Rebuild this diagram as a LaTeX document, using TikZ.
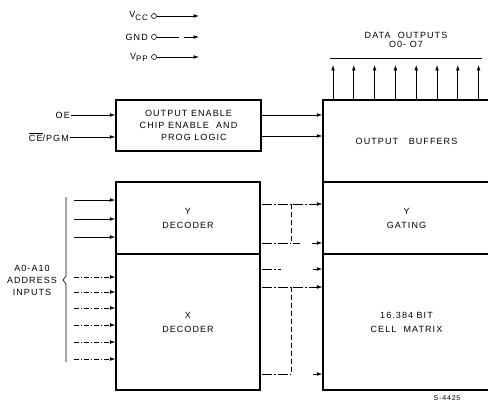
\documentclass[tikz,border=0pt]{standalone}
\usepackage{fontspec}
\setmainfont{Liberation Sans}[LetterSpace=12]
\usetikzlibrary{positioning,arrows.meta}
\newcommand{\pinsub}[1]{\raisebox{-0.45ex}{\footnotesize #1}}
\tikzset{
  block/.style={draw, rectangle, line width=1.5pt, inner sep=0pt, align=center, font=\small},
  lbl/.style={font=\small, inner sep=1pt, align=center},
  pin/.style={draw, circle, line width=0.6pt, inner sep=0pt, minimum size=5pt},
  sig/.style={-{Latex[length=5.5pt,width=3.8pt]}, line width=0.7pt},
  addr/.style={sig, line width=0.5pt, dash pattern=on 5pt off 2pt on 1pt off 2pt},
  bus/.style={line width=0.5pt, dash pattern=on 10pt off 2pt on 1.5pt off 2pt},
  fan/.style={line width=0.5pt, dash pattern=on 5pt off 3pt}
}
\begin{document}
\begin{tikzpicture}[x=1pt, y=-1pt]
    \useasboundingbox (0,0) rectangle (488,404);

    % supply pins
    \node[lbl, anchor=east] (vcc) at (149,16) {V\pinsub{CC}};
    \node[lbl, anchor=east] (gnd) at (149,37) {GND};
    \node[lbl, anchor=east] (vpp) at (149,57) {V\pinsub{PP}};
    \node[pin] (vccpin) at (154,16) {};
    \node[pin] (gndpin) at (154,37) {};
    \node[pin] (vpppin) at (154,57) {};
    \coordinate (vccend) at (199,16);
    \coordinate (gndend) at (199,37);
    \coordinate (vppend) at (199,57);
    \draw[sig] (vccpin) -- (vccend);
    \draw[sig, dash pattern=on 22pt off 5pt on 30pt] (gndpin) -- (gndend);
    \draw[sig] (vpppin) -- (vppend);

    % blocks
    \node[block, minimum width=145pt, minimum height=51pt] (oelogic) at (188.5,125.5)
        {OUTPUT ENABLE\\[1pt]CHIP ENABLE\ \ AND\\[1pt]\ \ \ PROG LOGIC};
    \node[block, minimum width=144pt, minimum height=72pt] (ydec) at (188,218) {Y\\[3pt]DECODER};
    \node[block, minimum width=144pt, minimum height=136pt] (xdec) at (188,322) {X\\[3pt]DECODER};
    \node[block, minimum width=167pt, minimum height=82pt] (obuf) at (406.5,141) {OUTPUT\ \ \ BUFFERS};
    \node[block, minimum width=167pt, minimum height=72pt] (ygate) at (406.5,218) {Y\\[3pt]GATING};
    \node[block, minimum width=167pt, minimum height=136pt] (cells) at (406.5,322) {16.384 BIT\\[3pt]CELL\ \ MATRIX};

    % control inputs
    \node[lbl, anchor=east] (oe) at (71,115) {OE};
    \node[lbl, anchor=east] (cepgm) at (70,137) {$\overline{\hbox{CE}}$/PGM};
    \draw[sig] (oe) -- (oe -| oelogic.west);
    \draw[sig] (cepgm) -- (cepgm -| oelogic.west);
    \draw[sig] (oelogic.east |- oe) -- (oe -| obuf.west);
    \draw[sig] (oelogic.east |- 0,136) -- (obuf.west |- 0,136);

    % data outputs
    \node[lbl] (dataout) at (406,35) {DATA\ \ OUTPUTS};
    \node[lbl, below=1pt of dataout] (oolabel) {O0- O7};
    \draw[line width=0.6pt] (330,58) -- (482,58);
    \foreach \i in {0,...,7} {
        \coordinate (dq\i) at (333+20.8*\i,65);
        \draw[sig] (obuf.north -| dq\i) -- (dq\i);
    }

    % address inputs
    \node[lbl] (addrlabel) at (32,280) {A0-A10\\[1pt]ADDRESS\\[1pt]INPUTS};
    \draw[line width=0.6pt] (66,197) -- (66,276) -- (63,280) -- (66,284) -- (66,362);
    \foreach \y [count=\i] in {200,219,237} {
        \coordinate (ya\i) at (74,\y);
        \draw[sig] (ya\i) -- (ya\i -| ydec.west);
    }
    \foreach \y [count=\i] in {277,292,308,325,342,359} {
        \coordinate (xa\i) at (74,\y);
        \draw[addr] (xa\i) -- (xa\i -| xdec.west);
    }

    % decoder outputs
    \coordinate (yo1) at (262,204);
    \coordinate (yo2) at (262,243);
    \coordinate (xo1) at (262,269);
    \coordinate (xo2) at (262,287);
    \coordinate (xo3) at (262,374);
    \draw[sig, bus] (yo1) -- (yo1 -| ygate.west);
    \draw[bus] (yo2) -- (300,243);
    \draw[sig] (312,243) -- (yo2 -| ygate.west);
    \draw[bus] (xo1) -- (281,269);
    \draw[sig] (313,269) -- (xo1 -| cells.west);
    \draw[sig, bus] (xo2) -- (xo2 -| cells.west);
    \draw[bus] (xo3) -- (291,374);
    \draw[sig] (313,374) -- (xo3 -| cells.west);
    \draw[fan] (291,204) -- (291,243);
    \draw[fan] (291,287) -- (291,374);

    \node[lbl, font=\scriptsize] (drawno) at (447,398) {S-4425};
\end{tikzpicture}
\end{document}
